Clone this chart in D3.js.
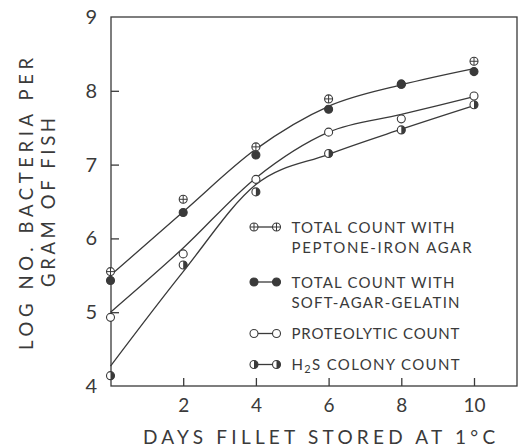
<!DOCTYPE html>
<html>
<head>
<meta charset="utf-8">
<script src="https://cdn.jsdelivr.net/npm/d3@7/dist/d3.min.js"></script>
<style>
  html, body { margin: 0; padding: 0; background: #ffffff; }
  svg { display: block; }
  text { font-family: "Lato", "DejaVu Sans", sans-serif; fill: #3a3a3a; }
</style>
</head>
<body>
<script>
// ---- data ----
const days = [0, 2, 4, 6, 8, 10];
const peptoneIron = [5.55, 6.53, 7.24, 7.89, 8.09, 8.40];
const softAgarGelatin = [5.43, 6.35, 7.13, 7.75, 8.09, 8.26];
const proteolytic = [4.93, 5.79, 6.80, 7.44, 7.62, 7.93];
const h2sColony = [4.14, 5.64, 6.63, 7.15, 7.47, 7.81];
// fitted (hand-drawn) curves
const totalFit = [5.50, 6.36, 7.21, 7.79, 8.08, 8.30];
const proteolyticFit = [5.00, 5.87, 6.82, 7.44, 7.68, 7.92];
const h2sFit = [4.27, 5.55, 6.73, 7.14, 7.48, 7.80];
const xTicks = [2, 4, 6, 8, 10];
const yTicks = [4, 5, 6, 7, 8, 9];
const legendLabels = [
  ["TOTAL COUNT WITH", "PEPTONE-IRON AGAR"],
  ["TOTAL COUNT WITH", "SOFT-AGAR-GELATIN"],
  ["PROTEOLYTIC COUNT"],
  ["H2S COLONY COUNT"]
];
const xTitle = "DAYS FILLET STORED AT 1°C";
const yTitle = ["LOG NO. BACTERIA PER", "GRAM OF FISH"];

// ---- layout ----
const W = 519, H = 448;
const pLeft = 111, pRight = 517, pTop = 17, pBottom = 386;
const ink = "#3a3a3a";

const svg = d3.select("body").append("svg").attr("width", W).attr("height", H);

const x = d3.scaleLinear().domain([0, 10]).range([110.5, 474]);
const y = d3.scaleLinear().domain([4, 9]).range([pBottom, pTop]);

// frame
svg.append("rect").attr("x", pLeft).attr("y", pTop)
  .attr("width", pRight - pLeft).attr("height", pBottom - pTop)
  .attr("fill", "none").attr("stroke", ink).attr("stroke-width", 1.3);

// axes with inward ticks
const xAxis = d3.axisBottom(x).tickValues(xTicks).tickFormat(d3.format("d"))
  .tickSizeInner(-8).tickSizeOuter(0).tickPadding(13);
const gx = svg.append("g").attr("transform", `translate(0,${pBottom})`).call(xAxis);
gx.select(".domain").remove();
gx.selectAll("line").attr("stroke", ink).attr("stroke-width", 1.3);
gx.selectAll("text").attr("font-size", 19).attr("fill", ink).attr("font-family", "Lato, DejaVu Sans, sans-serif");

const yAxis = d3.axisLeft(y).tickValues(yTicks).tickFormat(d3.format("d"))
  .tickSizeInner(-8).tickSizeOuter(0).tickPadding(14);
const gy = svg.append("g").attr("transform", `translate(${pLeft},0)`).call(yAxis);
gy.select(".domain").remove();
gy.selectAll("line").attr("stroke", ink).attr("stroke-width", 1.3)
  .filter(d => d === 4 || d === 9).remove();
gy.selectAll("text").attr("font-size", 20).attr("fill", ink).attr("font-family", "Lato, DejaVu Sans, sans-serif");

// helper: spread text to a target length via letter-spacing
function spread(sel, target) {
  sel.each(function() {
    const el = this;
    const n = el.textContent.length;
    const w = el.getComputedTextLength();
    const ls = (target - w) / Math.max(1, n - 1);
    d3.select(el).attr("letter-spacing", ls.toFixed(2));
  });
}

// curves
const line = d3.line().x((d, i) => x(days[i])).y(d => y(d)).curve(d3.curveMonotoneX);
[totalFit, proteolyticFit, h2sFit].forEach(fit => {
  svg.append("path").attr("d", line(fit)).attr("fill", "none")
    .attr("stroke", ink).attr("stroke-width", 1.3);
});

// markers
const r = 4;
function marker(g, cx, cy, type) {
  const m = g.append("g").attr("transform", `translate(${cx},${cy})`);
  if (type === "filled") {
    m.append("circle").attr("r", r).attr("fill", ink).attr("stroke", ink).attr("stroke-width", 1.1);
  } else if (type === "open") {
    m.append("circle").attr("r", r).attr("fill", "#fff").attr("stroke", ink).attr("stroke-width", 1.1);
  } else if (type === "plus") {
    m.append("circle").attr("r", r).attr("fill", "#fff").attr("stroke", ink).attr("stroke-width", 1.1);
    m.append("path").attr("d", `M${-r},0H${r}M0,${-r}V${r}`).attr("stroke", ink).attr("stroke-width", 1);
  } else if (type === "half") {
    m.append("circle").attr("r", r).attr("fill", "#fff").attr("stroke", ink).attr("stroke-width", 1.1);
    m.append("path").attr("d", `M0,${-r}A${r},${r} 0 0 1 0,${r}Z`).attr("fill", ink);
  }
}

const series = [
  { values: peptoneIron, type: "plus" },
  { values: softAgarGelatin, type: "filled" },
  { values: proteolytic, type: "open" },
  { values: h2sColony, type: "half" }
];
const gm = svg.append("g");
series.forEach(s => {
  s.values.forEach((v, i) => marker(gm, x(days[i]), y(v), s.type));
});

// legend
const legendRows = [227, 282, 333.5, 364.5];
const legendTargets = [[163, 180], [163, 168], [168], [168]];
const lg = svg.append("g");
series.forEach((s, k) => {
  const cy = legendRows[k];
  lg.append("line").attr("x1", 254).attr("x2", 276.5).attr("y1", cy).attr("y2", cy)
    .attr("stroke", ink).attr("stroke-width", 1.3);
  marker(lg, 254, cy, s.type);
  marker(lg, 276.5, cy, s.type);
  legendLabels[k].forEach((lab, j) => {
    const t = lg.append("text").attr("x", 291.5).attr("y", cy + 5.5 + j * 20)
      .attr("font-size", 15);
    if (lab.startsWith("H2S")) {
      t.append("tspan").text("H");
      t.append("tspan").text("2").attr("font-size", 11).attr("dy", 3);
      t.append("tspan").text(lab.slice(2)).attr("dy", -3);
    } else {
      t.text(lab);
    }
    spread(t, legendTargets[k][j]);
  });
});

// axis titles
const xt = svg.append("text").attr("x", 143).attr("y", 444).attr("font-size", 19).text(xTitle);
spread(xt, 352);

const yt1 = svg.append("text").attr("transform", "translate(33,350) rotate(-90)")
  .attr("font-size", 18.5).text(yTitle[0]);
spread(yt1, 292);
const yt2 = svg.append("text").attr("transform", "translate(55,287) rotate(-90)")
  .attr("font-size", 18.5).text(yTitle[1]);
spread(yt2, 169);
</script>
</body>
</html>
